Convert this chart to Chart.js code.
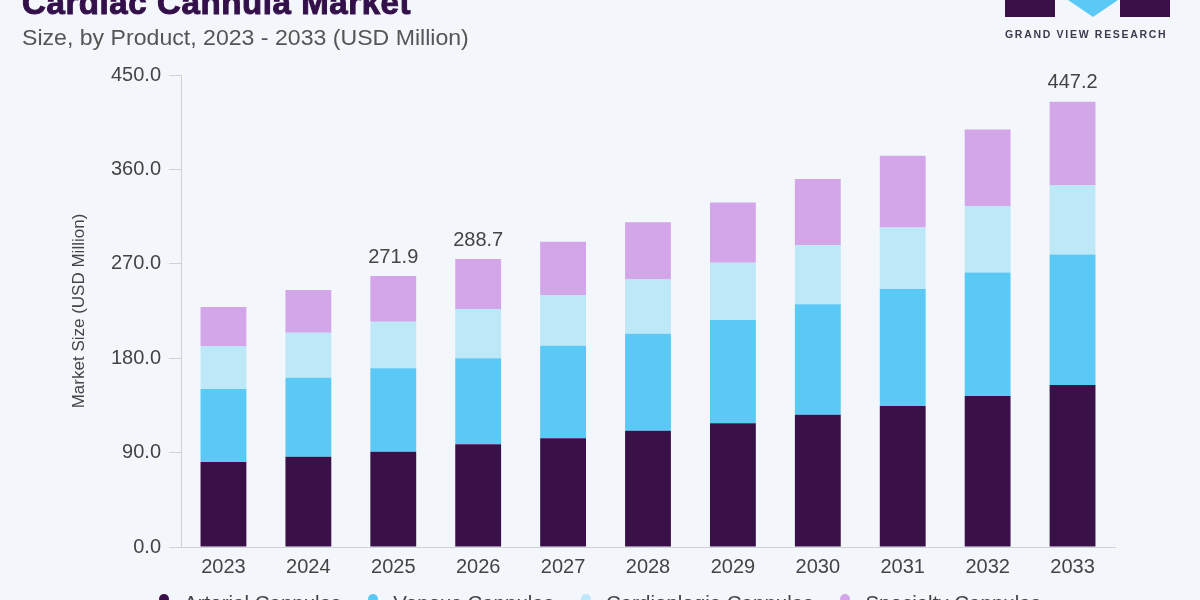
<!DOCTYPE html>
<html>
<head>
<meta charset="utf-8">
<script src="https://cdn.jsdelivr.net/npm/chart.js@4.4.1/dist/chart.umd.min.js"></script>
<style>
    html, body {
        margin: 0;
        padding: 0;
        width: 1200px;
        height: 600px;
        overflow: hidden;
        background: #f3f7fb;
        font-family: 'Liberation Sans', Arial, sans-serif;
    }
    #wrap { position: relative; width: 1200px; height: 600px; }
    #chart { position: absolute; left: 0; top: 0; }
    .title {
        position: absolute; left: 22px; top: -14px;
        font-size: 33px; line-height: 33px; font-weight: 900;
        letter-spacing: 0.6px;
        color: #33104a; white-space: nowrap;
        -webkit-text-stroke: 1px #33104a;
    }
    .subtitle {
        position: absolute; left: 22px; top: 25px;
        font-size: 22px; line-height: 26px;
        color: #555; white-space: nowrap;
        transform: scaleX(1.05); transform-origin: left top;
    }
    .logo { position: absolute; left: 1005px; top: 0; width: 166px; height: 40px; }
    .logo .box { position: absolute; top: 0; width: 50px; height: 17px; background: #3a1048; }
    .logo .tri {
        position: absolute; left: 63px; top: 0; width: 0; height: 0;
        border-left: 25px solid transparent; border-right: 25px solid transparent;
        border-top: 17px solid #5bc9f5;
    }
    .logo .name {
        position: absolute; left: 0; top: 28px; width: 170px;
        font-size: 10.5px; font-weight: bold; letter-spacing: 1.7px;
        color: #3d3a4d; white-space: nowrap;
    }
    #legend {
        position: absolute; left: 0; top: 591px; width: 1200px;
        display: flex; justify-content: center; gap: 27px;
        font-size: 20.5px; line-height: 24px; color: #444;
    }
    #legend span.item { display: flex; align-items: flex-start; white-space: nowrap; }
    #legend span.dot {
        display: inline-block; width: 10px; height: 10px; border-radius: 50%;
        margin-top: 3px; margin-right: 15px;
    }
</style>
</head>
<body>
<div id="wrap">
    <canvas id="chart" width="1200" height="600"></canvas>
    <div class="title">Cardiac Cannula Market</div>
    <div class="subtitle">Size, by Product, 2023 - 2033 (USD Million)</div>
    <div class="logo">
        <div class="box" style="left:0"></div>
        <div class="tri"></div>
        <div class="box" style="left:115px"></div>
        <div class="name">GRAND VIEW RESEARCH</div>
    </div>
    <div id="legend"></div>
</div>
<script>
// Werte (USD Million)
const years = ['2023', '2024', '2025', '2026', '2027', '2028', '2029', '2030', '2031', '2032', '2033'];
const arterial = [81.0, 86.1, 90.9, 97.9, 103.6, 110.9, 117.9, 126.0, 134.4, 143.9, 154.4];
const venous = [69.6, 75.3, 79.5, 82.0, 88.3, 92.4, 98.5, 105.4, 111.5, 117.9, 124.5];
const cardioplegia = [41.0, 42.9, 44.4, 47.0, 48.3, 52.2, 54.6, 56.3, 58.8, 63.2, 66.2];
const specialty = [37.2, 40.7, 43.5, 47.6, 50.9, 54.0, 57.5, 63.1, 68.3, 73.1, 79.4];
const totalLabels = [null, null, '271.9', '288.7', null, null, null, null, null, null, '447.2'];
const yTicks = [0, 90, 180, 270, 360, 450];

const seriesNames = ['Arterial Cannulas', 'Venous Cannulas', 'Cardioplegia Cannulas', 'Specialty Cannulas'];
const seriesColors = ['#3a1048', '#5bc9f5', '#bde8f8', '#d2a6e9'];
const seriesData = [arterial, venous, cardioplegia, specialty];

const textColor = '#444444';
const axisColor = '#cfd3d8';
const fontFamily = '"Liberation Sans", Arial, sans-serif';

// Summen-Beschriftung über den Balken
const totalLabelPlugin = {
    id: 'totalLabels',
    afterDatasetsDraw(chart) {
        const ctx = chart.ctx;
        const meta = chart.getDatasetMeta(chart.data.datasets.length - 1);
        ctx.save();
        ctx.font = '20px ' + fontFamily;
        ctx.fillStyle = textColor;
        ctx.textAlign = 'center';
        ctx.textBaseline = 'bottom';
        totalLabels.forEach((label, i) => {
            if (!label) return;
            const bar = meta.data[i];
            ctx.fillText(label, bar.x, bar.y - 9);
        });
        ctx.restore();
    }
};

const ctx = document.getElementById('chart').getContext('2d');
new Chart(ctx, {
    type: 'bar',
    data: {
        labels: years,
        datasets: seriesData.map((data, i) => ({
            label: seriesNames[i],
            data: data,
            backgroundColor: seriesColors[i],
            borderWidth: 0,
            barPercentage: 0.54,
            categoryPercentage: 1.0
        }))
    },
    options: {
        responsive: false,
        animation: false,
        devicePixelRatio: 1,
        layout: {
            padding: { top: 75, right: 85, bottom: 0, left: 0 }
        },
        plugins: {
            legend: { display: false },
            tooltip: { enabled: false }
        },
        scales: {
            x: {
                stacked: true,
                grid: { display: true, drawOnChartArea: false, drawTicks: false },
                border: { display: true, color: axisColor, width: 1 },
                ticks: {
                    color: textColor,
                    padding: 8,
                    font: { size: 20, family: fontFamily }
                },
                afterFit(scale) { scale.height = 53; }
            },
            y: {
                stacked: true,
                min: 0,
                max: 450,
                afterBuildTicks(scale) {
                    scale.ticks = yTicks.map(v => ({ value: v }));
                },
                grid: { drawOnChartArea: false, drawTicks: true, tickLength: 12, color: axisColor },
                border: { display: true, color: axisColor, width: 1 },
                ticks: {
                    color: textColor,
                    padding: 8,
                    font: { size: 20, family: fontFamily },
                    callback: function(value) {
                        return Number(value).toFixed(1);
                    }
                },
                title: {
                    display: true,
                    text: 'Market Size (USD Million)',
                    color: textColor,
                    padding: { top: 69, bottom: 0 },
                    font: { size: 17, family: fontFamily }
                },
                afterFit(scale) { scale.width = 181; }
            }
        }
    },
    plugins: [totalLabelPlugin]
});

// Legende als HTML, aus denselben Arrays
const legend = document.getElementById('legend');
seriesNames.forEach((name, i) => {
    const item = document.createElement('span');
    item.className = 'item';
    item.innerHTML = `<span class="dot" style="background:${seriesColors[i]}"></span>${name}`;
    legend.appendChild(item);
});
</script>
</body>
</html>
